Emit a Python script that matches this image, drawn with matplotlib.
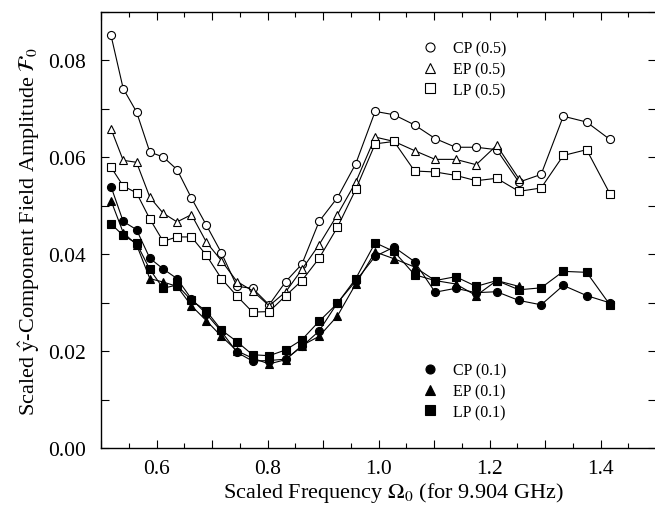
import matplotlib
matplotlib.use("Agg")
import matplotlib.pyplot as plt
from matplotlib.ticker import MultipleLocator, FuncFormatter
from matplotlib.lines import Line2D

# ---- data ----
omega = [0.518, 0.540, 0.564, 0.588, 0.612, 0.637, 0.663, 0.690, 0.717, 0.745,
         0.773, 0.803, 0.833, 0.862, 0.893, 0.926, 0.959, 0.994, 1.028, 1.065,
         1.102, 1.139, 1.176, 1.213, 1.253, 1.293, 1.333, 1.375, 1.417]

cp05 = [0.0852, 0.0742, 0.0694, 0.0611, 0.0601, 0.0575, 0.0516, 0.0460, 0.0403, 0.0334,
        0.0330, 0.0296, 0.0344, 0.0380, 0.0468, 0.0517, 0.0587, 0.0695, 0.0688, 0.0667,
        0.0639, 0.0621, 0.0621, 0.0616, 0.0549, 0.0565, 0.0685, 0.0673, 0.0637]

ep05 = [0.0659, 0.0594, 0.0590, 0.0518, 0.0485, 0.0467, 0.0482, 0.0425, 0.0387, 0.0344,
        0.0325, 0.0294, 0.0323, 0.0369, 0.0420, 0.0482, 0.0549, 0.0642, 0.0633, 0.0614,
        0.0596, 0.0596, 0.0585, 0.0625, 0.0556]

lp05 = [0.0580, 0.0541, 0.0527, 0.0473, 0.0427, 0.0436, 0.0436, 0.0398, 0.0350, 0.0314,
        0.0281, 0.0282, 0.0315, 0.0346, 0.0392, 0.0456, 0.0534, 0.0628, 0.0633, 0.0572,
        0.0570, 0.0563, 0.0552, 0.0557, 0.0530, 0.0537, 0.0604, 0.0616, 0.0525]

cp01 = [0.0540, 0.0468, 0.0451, 0.0392, 0.0370, 0.0350, 0.0308, 0.0277, 0.0241, 0.0198,
        0.0180, 0.0181, 0.0184, 0.0210, 0.0242, 0.0300, 0.0345, 0.0396, 0.0415, 0.0385,
        0.0322, 0.0330, 0.0321, 0.0323, 0.0305, 0.0296, 0.0336, 0.0315, 0.0300]

ep01 = [0.0511, 0.0445, 0.0420, 0.0350, 0.0343, 0.0334, 0.0294, 0.0263, 0.0231, 0.0201,
        0.0186, 0.0174, 0.0183, 0.0212, 0.0231, 0.0273, 0.0339, 0.0405, 0.0391, 0.0374,
        0.0346, 0.0339, 0.0315, 0.0346, 0.0334]

lp01 = [0.0463, 0.0439, 0.0423, 0.0369, 0.0330, 0.0337, 0.0305, 0.0283, 0.0244, 0.0220,
        0.0193, 0.0191, 0.0203, 0.0224, 0.0262, 0.0299, 0.0350, 0.0424, 0.0406, 0.0358,
        0.0346, 0.0354, 0.0334, 0.0346, 0.0327, 0.0331, 0.0365, 0.0363, 0.0296]

labels_05 = ["CP (0.5)", "EP (0.5)", "LP (0.5)"]
labels_01 = ["CP (0.1)", "EP (0.1)", "LP (0.1)"]

xlabel = r"Scaled Frequency $\Omega_0$ (for 9.904 GHz)"
ylabel = r"Scaled $\hat{\mathrm{y}}$-Component Field Amplitude $\mathcal{F}_0$"

# ---- style ----
plt.rcParams["font.family"] = ["Liberation Serif", "DejaVu Serif"]
plt.rcParams["mathtext.fontset"] = "stix"

fig = plt.figure(figsize=(6.55, 5.10), dpi=100)
ax = fig.add_axes([101 / 655, 1 - 449.3 / 510, 555 / 655, 436.3 / 510])

lw = 0.8
ms = 5.8
open_kw = dict(color="black", lw=lw, ms=ms, mfc="white", mec="black", mew=0.8)
fill_kw = dict(color="black", lw=lw, ms=ms, mfc="black", mec="black", mew=0.8)

ax.plot(omega, cp05, marker="o", **open_kw)
ax.plot(omega[:len(ep05)], ep05, marker="^", **open_kw)
ax.plot(omega, lp05, marker="s", **open_kw)
ax.plot(omega, cp01, marker="o", **fill_kw)
ax.plot(omega[:len(ep01)], ep01, marker="^", **fill_kw)
ax.plot(omega, lp01, marker="s", **fill_kw)

ax.set_xlim(0.5, 1.5)
ax.set_ylim(0.0, 0.09)

ax.xaxis.set_major_locator(MultipleLocator(0.1))
ax.xaxis.set_minor_locator(MultipleLocator(0.05))
ax.xaxis.set_major_formatter(FuncFormatter(
    lambda v, p: ("%.1f" % v) if abs(round(v * 10) % 2) == 0 else ""))
ax.yaxis.set_major_locator(MultipleLocator(0.01))
ax.yaxis.set_major_formatter(FuncFormatter(
    lambda v, p: ("%.2f" % v) if abs(round(v * 100) % 2) == 0 else ""))

ax.tick_params(which="both", direction="in", top=True, right=True, width=0.8)
ax.tick_params(axis="x", which="major", length=6, pad=8, labelsize=15.5)
ax.tick_params(axis="x", which="minor", length=3.5)
ax.tick_params(axis="y", which="major", length=6, pad=11, labelsize=15.5)
for s in ax.spines.values():
    s.set_linewidth(1.0)

ax.set_xlabel(xlabel, fontsize=16)
ax.xaxis.set_label_coords(0.526, -0.072)
ax.set_ylabel(ylabel, fontsize=16)
ax.yaxis.set_label_coords(-0.106, 0.5)

def proxy(marker, filled):
    return Line2D([], [], ls="none", marker=marker, color="black",
                  ms=6.5, mfc="black" if filled else "white", mec="black", mew=0.8)

leg_kw = dict(loc="upper left", frameon=False, fontsize=11.5, handlelength=1.0,
              handletextpad=0.9, labelspacing=0.3, borderpad=0, borderaxespad=0)
leg1 = ax.legend([proxy("o", False), proxy("^", False), proxy("s", False)], labels_05,
                 bbox_to_anchor=(0.579, 0.935), **leg_kw)
ax.add_artist(leg1)
ax.legend([proxy("o", True), proxy("^", True), proxy("s", True)], labels_01,
          bbox_to_anchor=(0.579, 0.197), **leg_kw)

fig.savefig("out.png", dpi=100)
